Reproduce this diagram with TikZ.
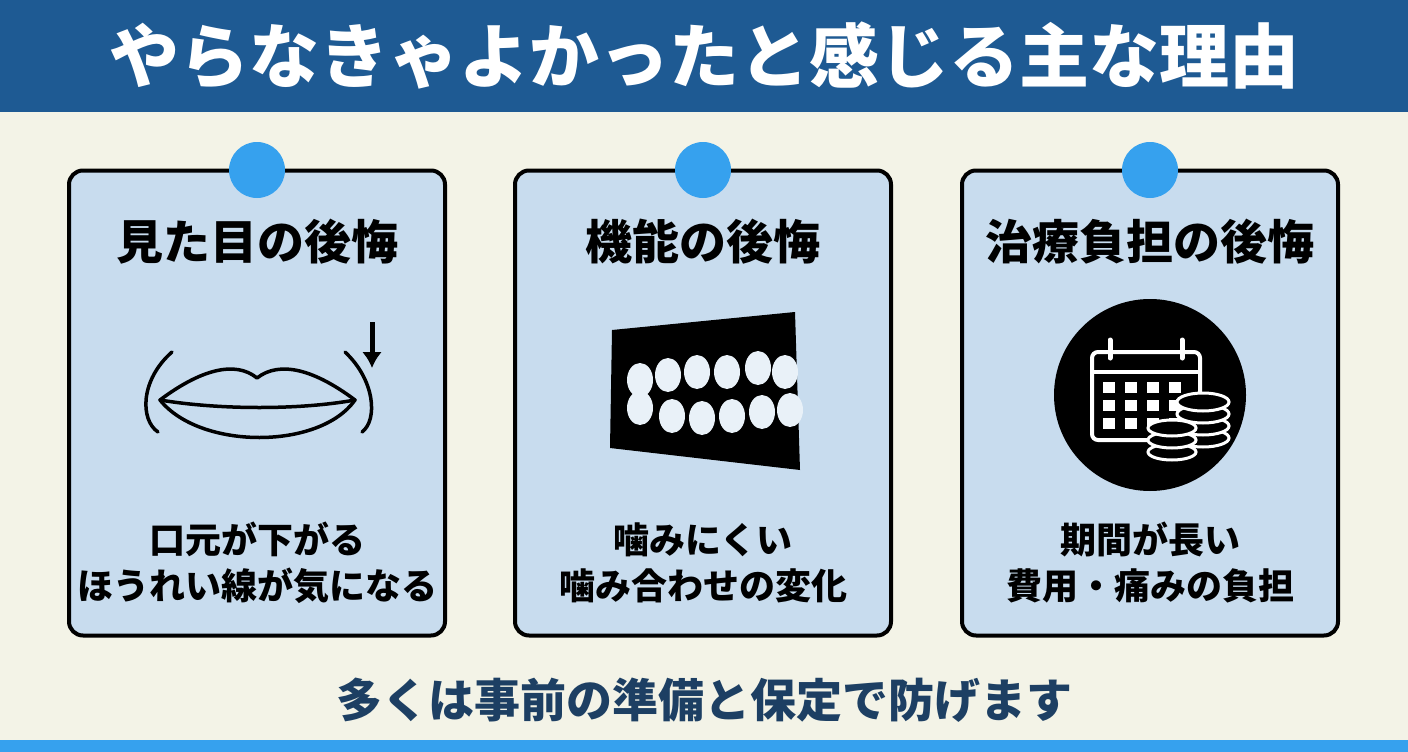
\documentclass[tikz,border=0pt]{standalone}
\usepackage{fontspec}
\usetikzlibrary{arrows.meta}
\setmainfont{Noto Sans CJK JP}
\definecolor{band}{HTML}{1E5A93}
\definecolor{cream}{HTML}{F3F3E7}
\definecolor{cardf}{HTML}{C8DCEE}
\definecolor{dot}{HTML}{36A1EE}
\definecolor{navy}{HTML}{1D3F63}
\tikzset{card/.style={draw=black,line width=4pt,rounded corners=14pt,fill=cardf},
 head/.style={font=\bfseries\fontsize{47}{52}\selectfont},
 body/.style={font=\bfseries\fontsize{36}{46}\selectfont,align=center},
 icon/.style={line width=3.5pt,line cap=round,line join=round}}
\begin{document}
\begin{tikzpicture}[x=1pt,y=-1pt]
\fill[cream] (0,0) rectangle (1408,752);
\fill[band] (0,0) rectangle (1408,112);
\fill[dot] (0,740) rectangle (1408,752);
\node[text=white,font=\bfseries\fontsize{70}{76}\selectfont] (title) at (704,56) {やらなきゃよかったと感じる主な理由};
\foreach \n/\cx in {a/257,b/703,c/1150}{
 \node[card,minimum width=376pt,minimum height=465pt] (\n) at (\cx,403) {};
 \fill[dot] (\cx,170) circle (28);
}
\node[head] (h1) at (257,242) {見た目の後悔};
\node[head] (h2) at (703,242) {機能の後悔};
\node[head] (h3) at (1150,242) {治療負担の後悔};
\node[body] (t1) at (257,563) {口元が下がる\\ほうれい線が気になる};
\node[body] (t2) at (703,563) {噛みにくい\\噛み合わせの変化};
\node[body] (t3) at (1150,563) {期間が長い\\費用・痛みの負担};
\node[text=navy,font=\bfseries\fontsize{46}{50}\selectfont] (cap) at (704,700) {多くは事前の準備と保定で防げます};
% lips
\draw[icon] (160,400) .. controls (200,370) and (235,360) .. (257,378) .. controls (280,360) and (315,370) .. (355,400)
 .. controls (320,450) and (200,450) .. (160,400) -- cycle;
\draw[icon] (160,400) .. controls (220,410) and (300,410) .. (355,400);
\draw[icon] (172,352) .. controls (140,380) and (140,420) .. (158,432);
\draw[icon] (345,352) .. controls (375,380) and (378,420) .. (362,432);
\draw[line width=5pt,-{Latex[length=16pt,width=20pt]}] (372,322) -- (372,368);
% teeth
\fill (612,330) -- (795,312) -- (800,470) -- (610,448) -- cycle;
\foreach \x/\y in {640/380,668/375,697/372,727/372,758/368,785/372}{\fill[cardf!40!white] (\x,\y) ellipse (13 and 17);}
\foreach \x/\y in {640/408,672/416,702/418,732/416,762/412,790/410}{\fill[cardf!40!white] (\x,\y) ellipse (13 and 17);}
% calendar
\fill (1150,395) circle (96);
\draw[white,line width=4pt,rounded corners=6pt] (1092,352) rectangle (1200,440);
\draw[white,line width=4pt] (1092,372) -- (1200,372);
\draw[white,line width=5pt,line cap=round] (1110,340) -- (1110,358) (1182,340) -- (1182,358);
\foreach \i in {0,...,3}{\foreach \j in {0,1,2}{\fill[white] (1103+\i*22,382+\j*18) rectangle +(12,11);}}
\foreach \k in {0,1,2,3}{\filldraw[fill=black,draw=white,line width=3pt] (1203,438-\k*12) ellipse (26 and 9);}
\foreach \k in {0,1,2}{\filldraw[fill=black,draw=white,line width=3pt] (1172,452-\k*12) ellipse (24 and 8);}
\end{tikzpicture}
\end{document}
